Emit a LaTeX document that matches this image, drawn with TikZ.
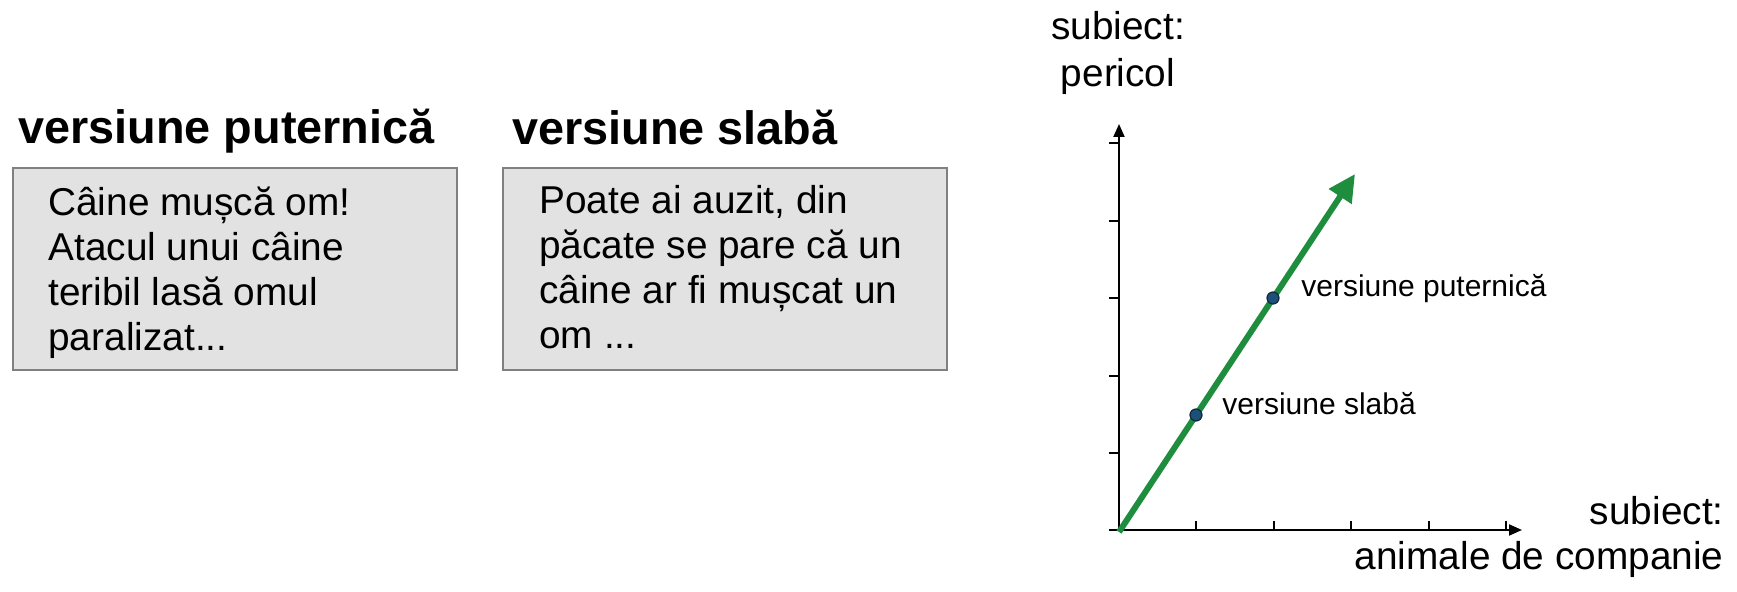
\documentclass[tikz,border=0pt]{standalone}
\usepackage{fontspec}
\setmainfont{Liberation Sans}
\usetikzlibrary{arrows.meta}
\definecolor{boxfill}{HTML}{E2E2E2}
\definecolor{boxline}{HTML}{808080}
\definecolor{arrowgreen}{HTML}{1E8E3E}
\definecolor{dotblue}{HTML}{1D5079}
\definecolor{dotline}{HTML}{10283C}
\tikzset{
  titletext/.style={font=\bfseries\fontsize{23.4}{27}\selectfont, inner sep=0pt, anchor=base west},
  bodytext/.style={font=\fontsize{19.4}{22.5}\selectfont, inner sep=0pt},
  labeltext/.style={font=\fontsize{15}{18}\selectfont, inner sep=0pt, anchor=base west},
  textbox/.style={draw=boxline, fill=boxfill, line width=0.75pt, minimum width=222pt, minimum height=101pt, inner sep=0pt},
  axisline/.style={line width=1pt, -{Triangle[length=6.5pt,width=5.5pt]}},
  tickline/.style={line width=0.7pt},
  greenarrow/.style={draw=arrowgreen, line width=3pt, -{Triangle[length=13.5pt,width=13pt]}},
  dotnode/.style={circle, fill=dotblue, draw=dotline, line width=0.6pt, minimum size=6pt, inner sep=0pt}
}
\begin{document}
\begin{tikzpicture}[x=0.5pt, y=-0.5pt]
\useasboundingbox[fill=white] (0,0) rectangle (1737,592);

% left panel
\node[titletext] (t1) at (18,144) {versiune puternică};
\node[textbox] (box1) at (235,269) {};
\node[bodytext, anchor=base west] (b1a) at (48,216) {Câine mușcă om!};
\node[bodytext, anchor=base west] (b1b) at (48,261) {Atacul unui câine};
\node[bodytext, anchor=base west] (b1c) at (48,306) {teribil lasă omul};
\node[bodytext, anchor=base west] (b1d) at (48,351) {paralizat...};

% middle panel
\node[titletext] (t2) at (512,145) {versiune slabă};
\node[textbox] (box2) at (725,269) {};
\node[bodytext, anchor=base west] (b2a) at (539,214) {Poate ai auzit, din};
\node[bodytext, anchor=base west] (b2b) at (539,259) {păcate se pare că un};
\node[bodytext, anchor=base west] (b2c) at (539,304) {câine ar fi mușcat un};
\node[bodytext, anchor=base west] (b2d) at (539,349) {om ...};

% graph
\coordinate (O) at (1119,530);
\coordinate (xs) at (1109,530);
\coordinate (xe) at (1522,530);
\coordinate (ye) at (1119,124);
\coordinate (gs) at (1119,532);
\coordinate (ge) at (1355,174);

\foreach \yy in {453,376,298,221,143} \draw[tickline] (1109,\yy) -- (1119,\yy);
\foreach \xx in {1196,1274,1351,1429,1506} \draw[tickline] (\xx,521) -- (\xx,530);

\draw[axisline] (xs) -- (xe);
\draw[axisline] (O) -- (ye);

\draw[greenarrow] (gs) -- (ge);

\node[dotnode] (pw) at (1196,415) {};
\node[dotnode] (ps) at (1273,298) {};
\node[labeltext] (lw) at (1222,415) {versiune slabă};
\node[labeltext] (ls) at (1301,297) {versiune puternică};

\node[bodytext, anchor=base] (ya1) at (1118,40) {subiect:};
\node[bodytext, anchor=base] (ya2) at (1118,87) {pericol};
\node[bodytext, anchor=base east] (xa1) at (1724,525) {subiect:};
\node[bodytext, anchor=base east] (xa2) at (1724,570) {animale de companie};
\end{tikzpicture}
\end{document}
